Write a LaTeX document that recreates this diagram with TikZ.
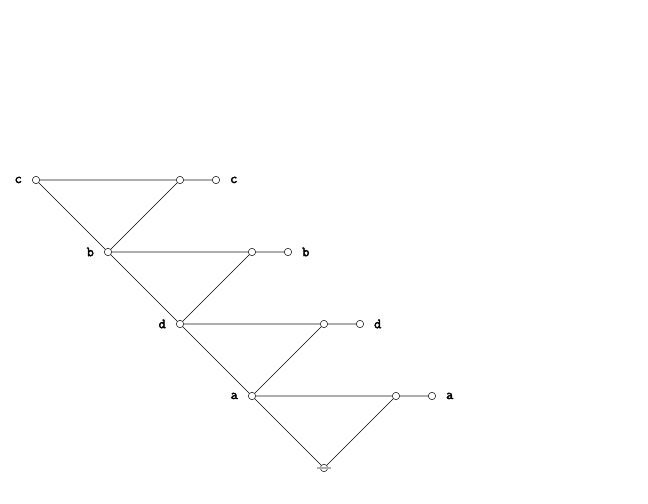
\documentclass[tikz,border=0pt]{standalone}
\usepackage{fontspec}
\newfontfamily\tagfont{Latin Modern Mono}[FakeBold=3]
\usetikzlibrary{positioning}
\tikzset{pin/.style={circle, draw, fill=white, inner sep=0pt, minimum size=7.5pt, line width=0.5pt}}
\tikzset{rung/.style={draw=black!32, line width=1.4pt}}
\tikzset{leg/.style={draw=black, line width=0.45pt}}
\tikzset{tag/.style={font=\tagfont\fontsize{14}{14}\selectfont, inner sep=0pt}}

\begin{document}
\begin{tikzpicture}[x=1in,y=1in]
\useasboundingbox (0,0) rectangle (9,7);
\node[pin] (c0) at (0.5,4.5) {};
\node[pin] (b0) at (1.5,3.5) {};
\node[pin] (d0) at (2.5,2.5) {};
\node[pin] (a0) at (3.5,1.5) {};
\node[pin] (bot) at (4.5,0.5) {};
\node[pin] (c1) at (2.5,4.5) {};
\node[pin] (c2) at (3.0,4.5) {};
\node[pin] (b1) at (3.5,3.5) {};
\node[pin] (b2) at (4.0,3.5) {};
\node[pin] (d1) at (4.5,2.5) {};
\node[pin] (d2) at (5.0,2.5) {};
\node[pin] (a1) at (5.5,1.5) {};
\node[pin] (a2) at (6.0,1.5) {};
\node[tag, left=10pt of c0] (cl) {c};
\node[tag, right=10pt of c2] (cr) {c};
\node[tag, left=10pt of b0] (bl) {b};
\node[tag, right=10pt of b2] (br) {b};
\node[tag, left=10pt of d0] (dl) {d};
\node[tag, right=10pt of d2] (dr) {d};
\node[tag, left=10pt of a0] (al) {a};
\node[tag, right=10pt of a2] (ar) {a};
\draw[rung] (c0) -- (c1) -- (c2);
\draw[rung] (b0) -- (b1) -- (b2);
\draw[rung] (d0) -- (d1) -- (d2);
\draw[rung] (a0) -- (a1) -- (a2);
\draw[leg] (c0) -- (b0) -- (d0) -- (a0) -- (bot);
\draw[leg] (c1) -- (b0);
\draw[leg] (b1) -- (d0);
\draw[leg] (d1) -- (a0);
\draw[leg] (a1) -- (bot);
\draw[rung] ([xshift=-7pt]bot.center) -- ([xshift=7pt]bot.center);
\end{tikzpicture}
\end{document}
